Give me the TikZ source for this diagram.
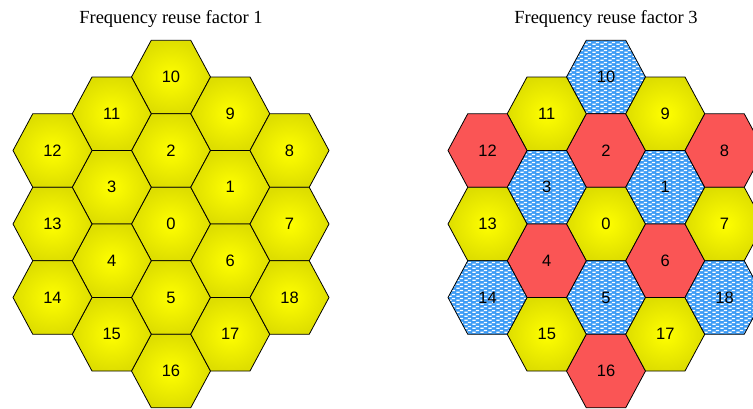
\documentclass[tikz,border=0pt]{standalone}
\usepackage{fontspec}
\setmainfont{Liberation Serif}
\setsansfont{Liberation Sans}
\usetikzlibrary{patterns}

\definecolor{cellyellow}{RGB}{255,255,0}
\definecolor{cellyellowdark}{RGB}{222,222,0}
\definecolor{cellred}{RGB}{250,85,85}
\definecolor{cellblue}{RGB}{60,155,245}

\pgfdeclarepatternformonly{celldashes}{\pgfqpoint{0pt}{0pt}}{\pgfqpoint{8pt}{4pt}}{\pgfqpoint{8pt}{4pt}}{
  \pgfpathrectangle{\pgfqpoint{0.3pt}{0.3pt}}{\pgfqpoint{3.6pt}{1.5pt}}
  \pgfpathrectangle{\pgfqpoint{4.3pt}{2.3pt}}{\pgfqpoint{3.6pt}{1.5pt}}
  \pgfusepath{fill}
}

\begin{document}
\begin{tikzpicture}[x=1pt, y=-1pt,
  ycell/.style={draw=black, line width=0.8pt, inner color=cellyellow, outer color=cellyellowdark},
  rcell/.style={draw=black, line width=0.8pt, fill=cellred},
  bcell/.style={draw=black, line width=0.8pt, preaction={fill=cellblue}, pattern=celldashes, pattern color=white},
  num/.style={font=\sffamily\fontsize{16.5}{16.5}\selectfont},
  title/.style={font=\fontsize{18.5}{18.5}\selectfont}]
  \clip (0,0) rectangle (753,408);
  \node[title] (title1) at (171,19) {Frequency reuse factor 1};
  \node[title] (title3) at (606,19) {Frequency reuse factor 3};
  % factor 1: every cell on the same band
  \foreach \c/\r/\n/\s in {0/-2/10/bcell, 0/-1/2/rcell, 0/0/0/ycell, 0/1/5/bcell, 0/2/16/rcell,
      -1/-1.5/11/ycell, -1/-0.5/3/bcell, -1/0.5/4/rcell, -1/1.5/15/ycell,
      -2/-1/12/rcell, -2/0/13/ycell, -2/1/14/bcell,
      1/-1.5/9/ycell, 1/-0.5/1/bcell, 1/0.5/6/rcell, 1/1.5/17/ycell,
      2/-1/8/rcell, 2/0/7/ycell, 2/1/18/bcell}
  {
    \draw[ycell] ({171+\c*59.25},{224+\r*73.5}) ++(-39.5,0) -- ++(19.75,-36.75) -- ++(39.5,0)
      -- ++(19.75,36.75) -- ++(-19.75,36.75) -- ++(-39.5,0) -- cycle;
    \node[num] (L\n) at ({171+\c*59.25},{224+\r*73.5}) {\n};
  }
  % factor 3: three bands
  \foreach \c/\r/\n/\s in {0/-2/10/bcell, 0/-1/2/rcell, 0/0/0/ycell, 0/1/5/bcell, 0/2/16/rcell,
      -1/-1.5/11/ycell, -1/-0.5/3/bcell, -1/0.5/4/rcell, -1/1.5/15/ycell,
      -2/-1/12/rcell, -2/0/13/ycell, -2/1/14/bcell,
      1/-1.5/9/ycell, 1/-0.5/1/bcell, 1/0.5/6/rcell, 1/1.5/17/ycell,
      2/-1/8/rcell, 2/0/7/ycell, 2/1/18/bcell}
  {
    \draw[\s] ({606+\c*59.25},{224+\r*73.5}) ++(-39.5,0) -- ++(19.75,-36.75) -- ++(39.5,0)
      -- ++(19.75,36.75) -- ++(-19.75,36.75) -- ++(-39.5,0) -- cycle;
    \node[num] (R\n) at ({606+\c*59.25},{224+\r*73.5}) {\n};
  }
\end{tikzpicture}
\end{document}
